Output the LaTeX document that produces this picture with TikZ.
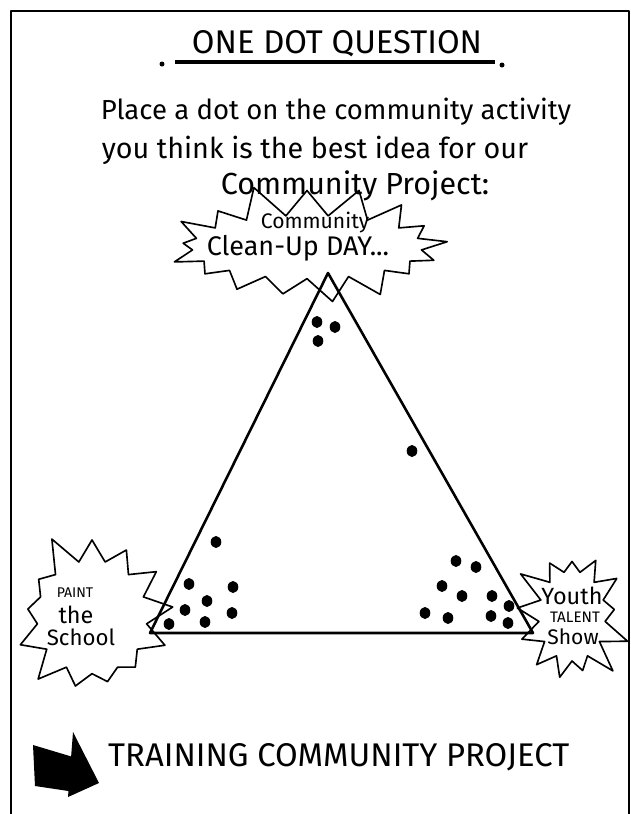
\documentclass[tikz,border=0pt]{standalone}
\usepackage{fontspec}
\setmainfont{Fira Sans}
\usepackage{tikz}
\usetikzlibrary{shapes.symbols,positioning}

\tikzset{
  burst/.style={starburst, draw, line width=1.4pt, inner sep=0pt},
  pen/.style={font=\fontsize{#1}{#1}\selectfont, inner sep=0pt},
}

\begin{document}
\begin{tikzpicture}[x=0.3mm,y=-0.3mm,line join=round]
    \useasboundingbox (0,0) rectangle (631,814);
    \draw[line width=2pt] (11,814) -- (11,11) -- (629,11) -- (629,814);

    % heading
    \node[pen=28] (title) at (337,44) {ONE DOT QUESTION};
    \draw[line width=3pt] (175,62) -- (495,62);
    \fill (162,64) circle (2.5) (502,65) circle (2.5);
    \node[pen=23.5] (line1) at (336,112) {Place a dot on the community activity};
    \node[pen=24.5] (line2) at (315,150) {you think is the best idea for our};
    \node[pen=26] (line3) at (355,186) {Community Project:};

    % the three choices
    \node[burst, starburst points=17, starburst point height=10mm, random starburst=11,
          minimum width=89mm, minimum height=39mm] (topburst) at (307,247) {};
    \node[pen=18] (cleanup1) at (315,223) {Community};
    \node[pen=23] (cleanup2) at (298,248) {Clean-Up DAY...};

    \node[burst, starburst points=13, starburst point height=10mm, random starburst=5,
          minimum width=53mm, minimum height=54mm] (leftburst) at (92,617) {};
    \node[pen=12] (paint1) at (75,593) {PAINT};
    \node[pen=20] (paint2) at (76,615) {the};
    \node[pen=19] (paint3) at (81,637) {School};

    \node[burst, starburst points=13, starburst point height=9mm, random starburst=3,
          minimum width=38mm, minimum height=45mm] (rightburst) at (572,616) {};
    \node[pen=20] (talent1) at (572,596) {Youth};
    \node[pen=13] (talent2) at (575,617) {TALENT};
    \node[pen=18] (talent3) at (573,637) {Show};

    \coordinate (apex) at (328,273);
    \coordinate (left) at (150,633);
    \coordinate (right) at (533,633);
    \draw[line width=2.2pt] (apex) -- (left) -- (right) -- cycle;

    % the dots
    \foreach \p in {(317,322),(335,327),(318,341),(412,451),
                    (216,542),(189,584),(233,587),(207,601),(185,610),(232,613),(169,624),(205,622),
                    (456,561),(476,567),(442,586),(462,596),(492,596),(509,606),(425,613),(448,618),(491,616),(508,623)}
        \fill \p ellipse [x radius=5.3, y radius=6];

    % footer
    \fill (33,745) -- (73,757) -- (75,792) -- (35,786) -- cycle;
    \fill (73,732) -- (99,783) -- (68,797) -- cycle;
    \node[pen=28, anchor=west] (footer) at (108,757) {TRAINING COMMUNITY PROJECT};
\end{tikzpicture}
\end{document}
